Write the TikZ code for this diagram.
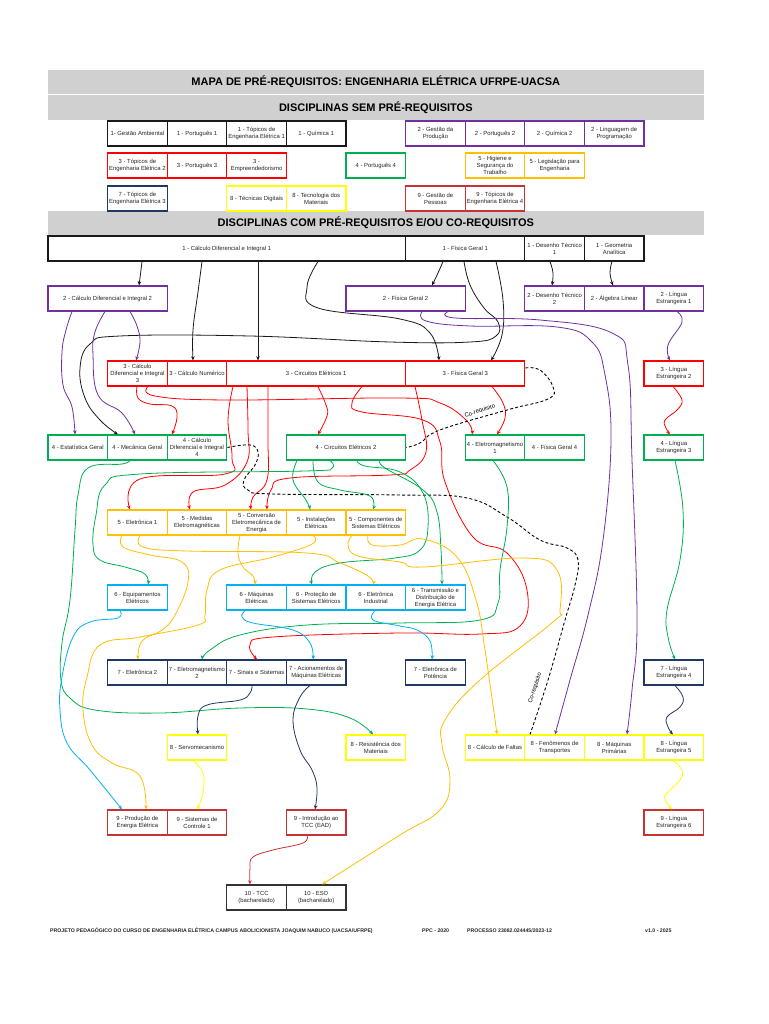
\documentclass[tikz,border=0pt]{standalone}
\usepackage{fontspec}
\setmainfont{Liberation Sans}
\usepackage{xcolor}
\definecolor{colS1}{HTML}{1A1A1A}
\definecolor{colS2}{HTML}{7030A0}
\definecolor{colS3}{HTML}{FF0000}
\definecolor{colS4}{HTML}{00B050}
\definecolor{colS5}{HTML}{FFC000}
\definecolor{colS6}{HTML}{00B0F0}
\definecolor{colS7}{HTML}{1F3864}
\definecolor{colS8}{HTML}{FFFF00}
\definecolor{colS9}{HTML}{C83232}
\definecolor{colS10}{HTML}{333333}
\definecolor{colBar}{HTML}{D0D0D0}
\definecolor{colText}{HTML}{262626}
\usetikzlibrary{arrows.meta}

\newcommand{\cellfont}{\fontsize{5.9}{7}\selectfont}
\newcommand{\barfont}{\fontsize{11}{13}\selectfont\bfseries}
\newcommand{\footfont}{\fontsize{5.2}{6}\selectfont\bfseries}

\tikzset{
  cell/.style={draw, line width=1.1pt, minimum width=59.6pt, minimum height=25pt, inner sep=0pt, align=center, font=\cellfont, text=colText},
  wide/.style={minimum width=#1},
  bar/.style={fill=colBar, minimum width=655.6pt, inner sep=0pt, font=\barfont, text=black},
  lnk/.style={line width=0.8pt, -{Stealth[length=4.2pt, width=3.6pt]}},
  coreq/.style={line width=0.9pt, dash pattern=on 3pt off 2.2pt},
  foot/.style={font=\footfont, anchor=west, inner sep=0pt, text=colText}
}

\begin{document}
\begin{tikzpicture}[x=1pt, y=-1pt]
        % Page: 1 unit = 1 px of the 768x1024 sheet
        \fill[white] (0,0) rectangle (768,1024);
        \useasboundingbox (0,0) rectangle (768,1024);
        % Header bars
        \node[bar, minimum height=24pt] (title) at (375.8,82) {MAPA DE PRÉ-REQUISITOS: ENGENHARIA ELÉTRICA UFRPE-UACSA};
        \node[bar, minimum height=25pt] (semHdr) at (375.8,107.5) {DISCIPLINAS SEM PRÉ-REQUISITOS};
        \node[bar, minimum height=24pt] (comHdr) at (375.8,223) {DISCIPLINAS COM PRÉ-REQUISITOS E/OU CO-REQUISITOS};
        % Without prerequisites
        \node[cell, draw=colS1] (gamb) at (137.4,133.5) {1- Gestão Ambiental};
        \node[cell, draw=colS1] (port1) at (197.0,133.5) {1 - Português 1};
        \node[cell, draw=colS1] (topi1) at (256.6,133.5) {1 - Tópicos de\\Engenharia Elétrica 1};
        \node[cell, draw=colS1] (quim1) at (316.2,133.5) {1 - Química 1};
        \node[cell, draw=colS2] (gprod) at (435.4,133.5) {2 - Gestão da\\Produção};
        \node[cell, draw=colS2] (port2) at (495.0,133.5) {2 - Português 2};
        \node[cell, draw=colS2] (quim2) at (554.6,133.5) {2 - Química 2};
        \node[cell, draw=colS2] (lprog) at (614.2,133.5) {2 - Linguagem de\\Programação};
        \node[cell, draw=colS3] (topi2) at (137.4,165.5) {3 - Tópicos de\\Engenharia Elétrica 2};
        \node[cell, draw=colS3] (port3) at (197.0,165.5) {3 - Português 3};
        \node[cell, draw=colS3] (empre) at (256.6,165.5) {3 -\\Empreendedorismo};
        \node[cell, draw=colS4] (port4) at (375.8,165.5) {4 - Português 4};
        \node[cell, draw=colS5] (higi) at (495.0,165.5) {5 - Higiene e\\Segurança do\\Trabalho};
        \node[cell, draw=colS5] (legis) at (554.6,165.5) {5 - Legislação para\\Engenharia};
        \node[cell, draw=colS7] (topi3) at (137.4,198.5) {7 - Tópicos de\\Engenharia Elétrica 3};
        \node[cell, draw=colS8] (tdig) at (256.6,198.5) {8 - Técnicas Digitais};
        \node[cell, draw=colS8] (tmat) at (316.2,198.5) {8 - Tecnologia dos\\Materiais};
        \node[cell, draw=colS9] (gpes) at (435.4,198.5) {9 - Gestão de\\Pessoas};
        \node[cell, draw=colS9] (topi4) at (495.0,198.5) {9 - Tópicos de\\Engenharia Elétrica 4};
        % Semester 1
        \node[cell, draw=colS1, wide=357.6pt] (calcA) at (226.8,248.5) {1 - Cálculo Diferencial e Integral 1};
        \node[cell, draw=colS1, wide=119.2pt] (fisA) at (465.2,248.5) {1 - Física Geral 1};
        \node[cell, draw=colS1] (desA) at (554.6,248.5) {1 - Desenho Técnico\\1};
        \node[cell, draw=colS1] (geoA) at (614.2,248.5) {1 - Geometria\\Analítica};
        % Semester 2
        \node[cell, draw=colS2, wide=119.2pt] (calcB) at (107.6,298.5) {2 - Cálculo Diferencial e Integral 2};
        \node[cell, draw=colS2, wide=119.2pt] (fisB) at (405.6,298.5) {2 - Física Geral 2};
        \node[cell, draw=colS2] (desB) at (554.6,298.5) {2 - Desenho Técnico\\2};
        \node[cell, draw=colS2] (algB) at (614.2,298.5) {2 - Álgebra Linear};
        \node[cell, draw=colS2] (lingB) at (673.8,298.5) {2 - Língua\\Estrangeira 1};
        % Semester 3
        \node[cell, draw=colS3] (calcC) at (137.4,373.5) {3 - Cálculo\\Diferencial e Integral\\3};
        \node[cell, draw=colS3] (numC) at (197.0,373.5) {3 - Cálculo Numérico};
        \node[cell, draw=colS3, wide=178.8pt] (circC) at (316.2,373.5) {3 - Circuitos Elétricos 1};
        \node[cell, draw=colS3, wide=119.2pt] (fisC) at (465.2,373.5) {3 - Física Geral 3};
        \node[cell, draw=colS3] (lingC) at (673.8,373.5) {3 - Língua\\Estrangeira 2};
        % Semester 4
        \node[cell, draw=colS4] (estD) at (77.8,447.5) {4 - Estatística Geral};
        \node[cell, draw=colS4] (mecD) at (137.4,447.5) {4 - Mecânica Geral};
        \node[cell, draw=colS4] (calcD) at (197.0,447.5) {4 - Cálculo\\Diferencial e Integral\\4};
        \node[cell, draw=colS4, wide=119.2pt] (circD) at (346,447.5) {4 - Circuitos Elétricos 2};
        \node[cell, draw=colS4] (eletD) at (495.0,447.5) {4 - Eletromagnetismo\\1};
        \node[cell, draw=colS4] (fisD) at (554.6,447.5) {4 - Física Geral 4};
        \node[cell, draw=colS4] (lingD) at (673.8,447.5) {4 - Língua\\Estrangeira 3};
        % Semester 5
        \node[cell, draw=colS5] (eletrE) at (137.4,522.5) {5 - Eletrônica 1};
        \node[cell, draw=colS5] (medE) at (197.0,522.5) {5 - Medidas\\Eletromagnéticas};
        \node[cell, draw=colS5] (convE) at (256.6,522.5) {5 - Conversão\\Eletromecânica de\\Energia};
        \node[cell, draw=colS5] (instE) at (316.2,522.5) {5 - Instalações\\Elétricas};
        \node[cell, draw=colS5] (compE) at (375.8,522.5) {5 - Componentes de\\Sistemas Elétricos};
        % Semester 6
        \node[cell, draw=colS6] (equipF) at (137.4,597.5) {6 - Equipamentos\\Elétricos};
        \node[cell, draw=colS6] (maqF) at (256.6,597.5) {6 - Máquinas\\Elétricas};
        \node[cell, draw=colS6] (protF) at (316.2,597.5) {6 - Proteção de\\Sistemas Elétricos};
        \node[cell, draw=colS6] (eindF) at (375.8,597.5) {6 - Eletrônica\\Industrial};
        \node[cell, draw=colS6] (transF) at (435.4,597.5) {6 - Transmissão e\\Distribuição de\\Energia Elétrica};
        % Semester 7
        \node[cell, draw=colS7] (eletrG) at (137.4,672.5) {7 - Eletrônica 2};
        \node[cell, draw=colS7] (emagG) at (197.0,672.5) {7 - Eletromagnetismo\\2};
        \node[cell, draw=colS7] (sinG) at (256.6,672.5) {7 - Sinais e Sistemas};
        \node[cell, draw=colS7] (acioG) at (316.2,672.5) {7 - Acionamentos de\\Máquinas Elétricas};
        \node[cell, draw=colS7] (potG) at (435.4,672.5) {7 - Eletrônica de\\Potência};
        \node[cell, draw=colS7] (lingG) at (673.8,672.5) {7 - Língua\\Estrangeira 4};
        % Semester 8
        \node[cell, draw=colS8] (servoH) at (197.0,747.5) {8 - Servomecanismo};
        \node[cell, draw=colS8] (resH) at (375.8,747.5) {8 - Resistência dos\\Materiais};
        \node[cell, draw=colS8] (faltH) at (495.0,747.5) {8 - Cálculo de Faltas};
        \node[cell, draw=colS8] (fenH) at (554.6,747.5) {8 - Fenômenos de\\Transportes};
        \node[cell, draw=colS8] (maqH) at (614.2,747.5) {8 - Máquinas\\Primárias};
        \node[cell, draw=colS8] (lingH) at (673.8,747.5) {8 - Língua\\Estrangeira 5};
        % Semester 9
        \node[cell, draw=colS9] (prodI) at (137.4,822.5) {9 - Produção de\\Energia Elétrica};
        \node[cell, draw=colS9] (ctrlI) at (197.0,822.5) {9 - Sistemas de\\Controle 1};
        \node[cell, draw=colS9] (tccI) at (316.2,822.5) {9 - Introdução ao\\TCC (EAD)};
        \node[cell, draw=colS9] (lingI) at (673.8,822.5) {9 - Língua\\Estrangeira 6};
        % Semester 10
        \node[cell, draw=colS10] (tccJ) at (256.6,897.5) {10 - TCC\\(bacharelado)};
        \node[cell, draw=colS10] (esoJ) at (316.2,897.5) {10 - ESO\\(bacharelado)};
        % Links from semester 1
        \draw[lnk, colS1] plot[smooth, tension=.7] coordinates {([xshift=-84.8pt]calcA.south) (140.5,274) ([xshift=31.4pt]calcB.north)};
        \draw[lnk, colS1] plot[smooth, tension=.7] coordinates {([xshift=-24.8pt]calcA.south) (198,292) (193,330) ([xshift=-4pt]numC.north)};
        \draw[lnk, colS1] ([xshift=31.2pt]calcA.south) -- ([xshift=-58.2pt]circC.north);
        \draw[lnk, colS1] plot[smooth, tension=.7] coordinates {([xshift=91.2pt]calcA.south) (307,287) (318,308) (400,319) (430,333) ([xshift=-26.2pt]fisC.north)};
        \draw[lnk, colS1] plot[smooth, tension=.7] coordinates {([xshift=-22.2pt]fisA.south) (438,273) ([xshift=26.4pt]fisB.north)};
        \draw[lnk, colS1] plot[smooth, tension=.7] coordinates {([xshift=-1.2pt]fisA.south) (470,285) (484,308) (498,322) (496,336) (470,342) (390,342) (250,336) (120,336) (90,344) (80,368) (85,398) (100,420) ([xshift=-19.4pt]mecD.north)};
        \draw[lnk, colS1] plot[smooth, tension=.7] coordinates {([xshift=30.8pt]fisA.south) (503,300) (502,335) ([xshift=25.8pt]fisC.north)};
        \draw[lnk, colS1] plot[smooth, tension=.7] coordinates {([xshift=-4.6pt]desA.south) (553,273) ([xshift=-2.6pt]desB.north)};
        \draw[lnk, colS1] plot[smooth, tension=.7] coordinates {([xshift=-2.2pt]geoA.south) (610,273) ([xshift=-1.2pt]algB.north)};
        % Links from semester 2
        \draw[lnk, colS2] plot[smooth, tension=.7] coordinates {([xshift=-35.6pt]calcB.south) (66,330) (62,352) (63,385) (72,407) ([xshift=-2.8pt]estD.north)};
        \draw[lnk, colS2] plot[smooth, tension=.7] coordinates {([xshift=-2.6pt]calcB.south) (95,332) (93,355) (98,395) (122,413) ([xshift=-2.4pt]mecD.north)};
        \draw[lnk, colS2] plot[smooth, tension=.7] coordinates {([xshift=22.4pt]calcB.south) (137,326) (140,342) ([xshift=-1.4pt]calcC.north)};
        \draw[lnk, colS2] plot[smooth, tension=.7] coordinates {([xshift=16.4pt]fisB.south) (426,321) (470,326) (557,327) (592,342) (605,375) (611,440) (603,540) (588,615) (570,680) ([xshift=0.4pt]fenH.north)};
        \draw[lnk, colS2] plot[smooth, tension=.7] coordinates {([xshift=42.4pt]fisB.south) (455,318) (540,320) (612,333) (628,365) (632,460) (637,620) (632,690) ([xshift=12.8pt]maqH.north)};
        \draw[lnk, colS2] plot[smooth, tension=.7] coordinates {([xshift=3.2pt]lingB.south) (682,322) (668,345) ([xshift=-3.8pt]lingC.north)};
        % Links from semester 3
        \draw[lnk, colS3] plot[smooth, tension=.7] coordinates {([xshift=-0.4pt]calcC.south) (138,398) (150,404) (172,406) (177,417) ([xshift=-25pt]calcD.north)};
        \draw[lnk, colS3] plot[smooth, tension=.7] coordinates {([xshift=10.6pt]calcC.south) (155,396) (227,400) (400,398) (440,403) (467,421) ([xshift=-23pt]eletD.north)};
        \draw[lnk, colS3] plot[smooth, tension=.7] coordinates {([xshift=1.8pt]circC.south) (326,405) (327,416) ([xshift=-28pt]circD.north)};
        \draw[lnk, colS3] plot[smooth, tension=.7] coordinates {([xshift=-83.2pt]circC.south) (228,420) (232,458) (225,474) (140,479) ([xshift=-7.4pt]eletrE.north)};
        \draw[lnk, colS3] plot[smooth, tension=.7] coordinates {([xshift=-69.2pt]circC.south) (248,430) (247,462) (225,485) (193,492) ([xshift=-7pt]medE.north)};
        \draw[lnk, colS3] plot[smooth, tension=.7] coordinates {([xshift=-48.2pt]circC.south) (268,440) (267,480) (253,497) ([xshift=-5.6pt]convE.north)};
        \draw[lnk, colS3] plot[smooth, tension=.7] coordinates {([xshift=45.8pt]circC.south) (352,403) (362,412) (423,420) (440,442) (445,482) (473,537) (507,553) (527,590) (520,626) (480,634) (400,633) (273,637) (250,645) ([xshift=0.4pt]sinG.north)};
        \draw[lnk, colS3] plot[smooth, tension=.7] coordinates {([xshift=-50.2pt]fisC.south) (422,420) (426,452) (410,470) (390,475) (290,478) (271,490) ([xshift=10.4pt]convE.north)};
        \draw[lnk, colS3] plot[smooth, tension=.7] coordinates {([xshift=26.8pt]fisC.south) (503,403) (505,418) ([xshift=2pt]eletD.north)};
        \draw[lnk, colS3] plot[smooth, tension=.7] coordinates {([xshift=-0.8pt]lingC.south) (682,400) (677,410) (665,420) (666,428) ([xshift=-3.8pt]lingD.north)};
        % Co-requisites
        \draw[coreq] plot[smooth, tension=.7] coordinates {([yshift=5.5pt]fisC.east) (540,370) (553,387) (548,399) (507,410) (440,430) (420,443) (circD.east)};
        \node[font=\cellfont, rotate=18] (coLblA) at (480,411) {Co-requisito};
        \draw[coreq] plot[smooth, tension=.7] coordinates {(calcD.east) (250,445) (258,452) (255,465) (244,480) (248,490) (273,494) (400,495) (467,498) (507,517) (540,540) (567,548) (578,560) (575,585) (565,620) (548,680) ([xshift=-24.6pt]fenH.north)};
        \node[font=\cellfont, rotate=72] (coLblB) at (535,688) {Co-requisito};
        % Links from semester 4
        \draw[lnk, colS4] plot[smooth, tension=.7] coordinates {([xshift=1.2pt]lingD.south) (683,510) (680,560) (667,610) (668,637) ([xshift=1.2pt]lingG.north)};
        \draw[lnk, colS4] plot[smooth, tension=.7] coordinates {([xshift=-2pt]eletD.south) (507,487) (507,527) (500,570) (498,603) (480,620) (400,623) (307,625) (240,635) (210,650) ([xshift=5pt]emagG.north)};
        \draw[lnk, colS4] plot[smooth, tension=.7] coordinates {([xshift=-7.4pt]mecD.south) (122,464) (88,468) (78,495) (75,530) (70,600) (62,643) (61,680) (70,698) (95,710) (160,713) (240,708) (307,709) (350,718) ([xshift=-2.8pt]resH.north)};
        \draw[lnk, colS4] plot[smooth, tension=.7] coordinates {([xshift=-49pt]circD.south) (293,480) (306,500) ([xshift=-6.2pt]instE.north)};
        \draw[lnk, colS4] plot[smooth, tension=.7] coordinates {([xshift=-33pt]circD.south) (318,482) (340,490) (370,496) ([xshift=-2.8pt]compE.north)};
        \draw[lnk, colS4] plot[smooth, tension=.7] coordinates {([xshift=-16pt]circD.south) (332,468) (305,471) (140,474) (105,485) (96,515) (93,545) (100,560) (125,567) (145,574) ([xshift=10.6pt]equipF.north)};
        \draw[lnk, colS4] plot[smooth, tension=.7] coordinates {([xshift=11pt]circD.south) (365,466) (400,472) (423,493) (428,527) (420,550) (395,558) (340,563) (315,572) ([xshift=-4.2pt]protF.north)};
        \draw[lnk, colS4] plot[smooth, tension=.7] coordinates {([xshift=34pt]circD.south) (385,468) (423,490) (437,512) (441,550) ([xshift=6.6pt]transF.north)};
        % Links from semester 5
        \draw[lnk, colS5] plot[smooth, tension=.7] coordinates {([xshift=-15.4pt]eletrE.south) (123,547) (150,555) (182,562) (188,582) (175,615) (162,630) (142,641) ([xshift=0.6pt]eletrG.north)};
        \draw[lnk, colS5] plot[smooth, tension=.7] coordinates {([xshift=2.6pt]eletrE.south) (143,547) (187,551) (307,553) (340,563) (368,576) ([xshift=-2.8pt]eindF.north)};
        \draw[lnk, colS5] plot[smooth, tension=.7] coordinates {([xshift=-16.6pt]convE.south) (238,553) (243,567) (253,576) ([xshift=-1.6pt]maqF.north)};
        \draw[lnk, colS5] plot[smooth, tension=.7] coordinates {([xshift=-3.2pt]instE.south) (312,544) (273,557) (220,570) (207,590) (205,615) (198,625) (140,637) (100,645) (87,677) (83,710) (92,745) (112,763) (140,776) ([xshift=8.6pt]prodI.north)};
        \draw[lnk, colS5] plot[smooth, tension=.7] coordinates {([xshift=-7.8pt]compE.south) (372,545) (400,545) (423,539) (457,557) (476,600) (485,650) ([xshift=2pt]faltH.north)};
        \draw[lnk, colS5] plot[smooth, tension=.7] coordinates {([xshift=-23.8pt]compE.south) (348,545) (358,556) (400,562) (423,567) (523,558) (557,570) (560,610) (553,622) (480,680) (445,720) (442,745) (450,780) (440,810) (400,835) ([xshift=5.8pt]esoJ.north)};
        % Links from semester 6
        \draw[lnk, colS6] plot[smooth, tension=.7] coordinates {([xshift=-17.4pt]equipF.south) (118,618) (90,622) (73,637) (62,677) (60,710) (67,743) (90,770) ([xshift=-15.4pt]prodI.north)};
        \draw[lnk, colS6] plot[smooth, tension=.7] coordinates {([xshift=-11.6pt]maqF.south) (242,617) (253,623) (293,630) (310,643) ([xshift=-3.2pt]acioG.north)};
        \draw[lnk, colS6] plot[smooth, tension=.7] coordinates {([xshift=-0.8pt]eindF.south) (373,620) (400,626) (417,630) (430,641) ([xshift=-3.4pt]potG.north)};
        % Links from semester 7
        \draw[lnk, colS7] plot[smooth, tension=.7] coordinates {([xshift=-4.6pt]sinG.south) (250,693) (240,700) (207,705) (198,716) ([xshift=1pt]servoH.north)};
        \draw[lnk, colS7] plot[smooth, tension=.7] coordinates {([xshift=-6.2pt]acioG.south) (300,697) (293,720) (300,750) (312,770) (317,788) ([xshift=-1.2pt]tccI.north)};
        \draw[lnk, colS7] plot[smooth, tension=.7] coordinates {([xshift=1.2pt]lingG.south) (683,697) (680,707) (667,717) (668,727) ([xshift=-0.8pt]lingH.north)};
        % Links from semesters 8 and 9
        \draw[lnk, colS8] plot[smooth, tension=.7] coordinates {([xshift=-4pt]servoH.south) (203,773) (203,793) (ctrlI.north)};
        \draw[lnk, colS8] plot[smooth, tension=.7] coordinates {([xshift=-0.8pt]lingH.south) (682,770) (680,780) (667,793) (665,800) ([xshift=-1.8pt]lingI.north)};
        \draw[lnk, colS9] plot[smooth, tension=.7] coordinates {([xshift=-9.2pt]tccI.south) (303,843) (273,850) (253,857) (250,868) ([xshift=-6.6pt]tccJ.north)};
        % Footer
        \node[foot] (footA) at (50,931) {PROJETO PEDAGÓGICO DO CURSO DE ENGENHARIA ELÉTRICA CAMPUS ABOLICIONISTA JOAQUIM NABUCO (UACSA/UFRPE)};
        \node[foot] (footB) at (422,931) {PPC - 2020};
        \node[foot] (footC) at (467,931) {PROCESSO 23082.024445/2023-12};
        \node[foot] (footD) at (645,931) {v1.0 - 2025};
\end{tikzpicture}
\end{document}
